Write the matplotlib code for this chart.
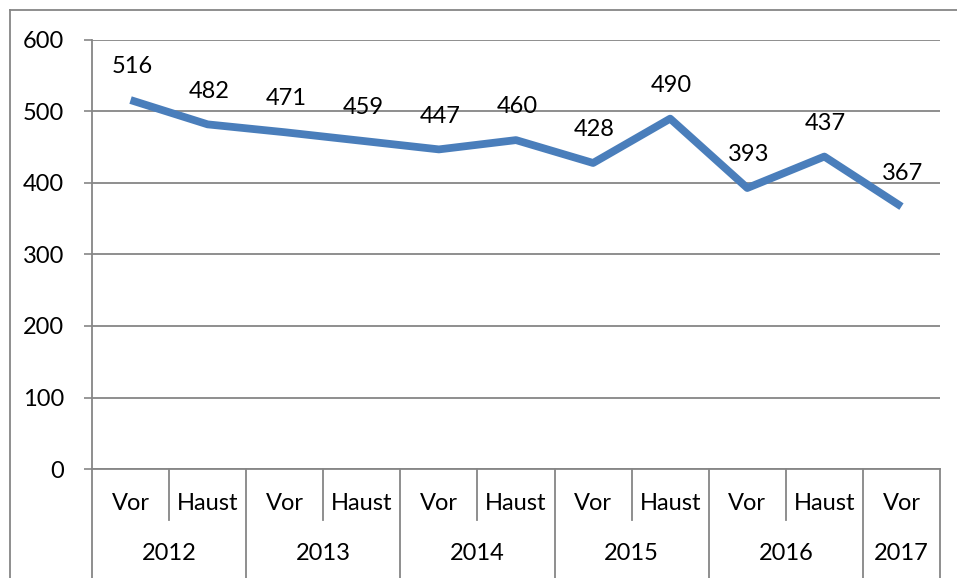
import numpy as np
import matplotlib
matplotlib.use("Agg")
from matplotlib import pyplot as plt
from matplotlib.lines import Line2D

# Data
seasons = ["Vor", "Haust", "Vor", "Haust", "Vor", "Haust", "Vor", "Haust", "Vor", "Haust", "Vor"]
years = ["2012", "2013", "2014", "2015", "2016", "2017"]
year_spans = [2, 2, 2, 2, 2, 1]
values = [516, 482, 471, 459, 447, 460, 428, 490, 393, 437, 367]
y_ticks = [0, 100, 200, 300, 400, 500, 600]

plt.rcParams["font.family"] = ["Lato", "DejaVu Sans"]
fs = 17
grey = "#868686"

W, H = 957, 578
fig = plt.figure(figsize=(W / 100, H / 100), dpi=100)
ax = fig.add_axes([92 / W, 109 / H, (940 - 92) / W, (538 - 109) / H])

x = np.arange(len(values))
ax.plot(x, values, color="#4A7EBB", lw=5.6, solid_capstyle="butt", solid_joinstyle="round", zorder=3)

# data labels
for xi, v in zip(x, values):
    ax.annotate(str(v), (xi, v), xytext=(1, 24), textcoords="offset points",
                ha="center", va="center", fontsize=fs)

ax.set_xlim(-0.5, len(values) - 0.5)
ax.set_ylim(0, 600)
ax.set_yticks(y_ticks)
ax.set_yticklabels([str(t) for t in y_ticks], fontsize=fs)
ax.tick_params(axis="y", length=6, width=1.2, color=grey, pad=14)
ax.grid(axis="y", color=grey, lw=1.3)
ax.set_axisbelow(True)

for s in ["top", "right"]:
    ax.spines[s].set_visible(False)
ax.spines["left"].set_color(grey)
ax.spines["left"].set_linewidth(1.3)
ax.spines["bottom"].set_color(grey)
ax.spines["bottom"].set_linewidth(1.3)
ax.set_xticks([])

# two-level category axis
tr = ax.get_xaxis_transform()
ax_h = 538 - 109
row1 = -(520 - 469) / ax_h
row_bot = -(600 - 469) / ax_h
for i, s in enumerate(seasons):
    ax.text(i, -(503 - 469) / ax_h, s, transform=tr, ha="center", va="center", fontsize=fs)

# boundaries
year_edges = np.concatenate([[0], np.cumsum(year_spans)]) - 0.5
for b in np.arange(len(values) + 1) - 0.5:
    bottom = row_bot if b in year_edges else row1
    ax.add_line(Line2D([b, b], [0, bottom], transform=tr, color=grey, lw=1.3, clip_on=False))

for yr, lo, hi in zip(years, year_edges[:-1], year_edges[1:]):
    ax.text((lo + hi) / 2, -(553 - 469) / ax_h, yr, transform=tr, ha="center", va="center", fontsize=fs)

# outer chart frame (cropped at right/bottom)
fig.add_artist(Line2D([10 / W, 1.01], [1 - 10 / H, 1 - 10 / H], transform=fig.transFigure, color=grey, lw=1.3))
fig.add_artist(Line2D([10 / W, 10 / W], [1 - 10 / H, -0.01], transform=fig.transFigure, color=grey, lw=1.3))

fig.savefig("out.png", dpi=100)
